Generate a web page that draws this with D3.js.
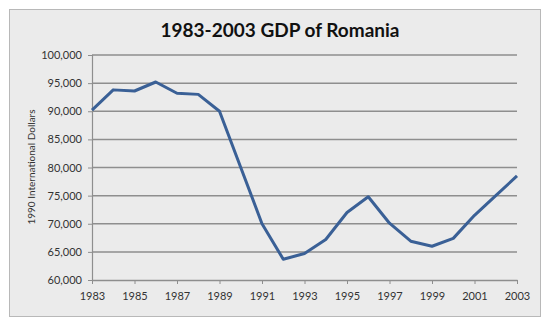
<!DOCTYPE html>
<html><head><meta charset="utf-8">
<script src="https://cdn.jsdelivr.net/npm/d3@7"></script>
<style>
html,body{margin:0;padding:0;background:#fff;}
svg{display:block;}
</style></head>
<body>
<svg id="chart" width="550" height="330"></svg>
<script>
const years = [1983,1984,1985,1986,1987,1988,1989,1990,1991,1992,1993,1994,1995,1996,1997,1998,1999,2000,2001,2002,2003];
const gdp = [90200,93800,93600,95200,93200,93000,90000,80000,70000,63700,64700,67200,72000,74800,70100,66900,66000,67400,71500,75000,78500];
const yTicks = [60000,65000,70000,75000,80000,85000,90000,95000,100000];
const xTicks = [1983,1985,1987,1989,1991,1993,1995,1997,1999,2001,2003];
const title = "1983-2003 GDP of Romania";
const yTitle = "1990 International Dollars";

const svg = d3.select("#chart");
const font = "Lato, 'Liberation Sans', sans-serif";

svg.append("rect").attr("x",9.5).attr("y",9.5).attr("width",531).attr("height",307)
  .attr("fill","#ebebeb").attr("stroke","#b8b8b8").attr("stroke-width",1);

const x = d3.scaleLinear().domain([1983,2003]).range([92,517]);
const y = d3.scaleLinear().domain([60000,100000]).range([280,55]);

// gridlines
svg.append("g").selectAll("line").data(yTicks.filter(d=>d>60000)).join("line")
  .attr("x1",92).attr("x2",517).attr("y1",d=>y(d)).attr("y2",d=>y(d))
  .attr("stroke","#8e8e8e").attr("stroke-width",1.5);

// y axis
const yAxis = svg.append("g").attr("transform","translate(92,0)")
  .call(d3.axisLeft(y).tickValues(yTicks).tickFormat(d3.format(",")).tickSize(4).tickPadding(6));
yAxis.select(".domain").attr("stroke","#8e8e8e").attr("stroke-width",1.2);
yAxis.selectAll(".tick line").attr("stroke","#8e8e8e");
yAxis.selectAll("text").attr("fill","#333").style("font-family",font).style("font-size","11px");

// x axis
const xAxis = svg.append("g").attr("transform","translate(0,280)")
  .call(d3.axisBottom(x).tickValues(xTicks).tickFormat(d3.format("d")).tickSize(4).tickSizeOuter(0).tickPadding(8));
xAxis.select(".domain").attr("stroke","#8e8e8e").attr("stroke-width",1.5);
xAxis.selectAll(".tick line").attr("stroke","#8e8e8e");
xAxis.selectAll("text").attr("fill","#333").style("font-family",font).style("font-size","11px");

// line
const line = d3.line().x((d,i)=>x(years[i])).y(d=>y(d));
svg.append("path").datum(gdp).attr("d",line).attr("fill","none")
  .attr("stroke","#3a6096").attr("stroke-width",3).attr("stroke-linejoin","round");

// title
svg.append("text").attr("x",280).attr("y",36.5).attr("text-anchor","middle")
  .style("font-family",font).style("font-size","19px").style("font-weight","bold")
  .attr("fill","#111").text(title);

// y title
svg.append("text").attr("transform","translate(35,167) rotate(-90)").attr("text-anchor","middle")
  .style("font-family",font).style("font-size","10px").attr("fill","#333").text(yTitle);
</script>
</body></html>
